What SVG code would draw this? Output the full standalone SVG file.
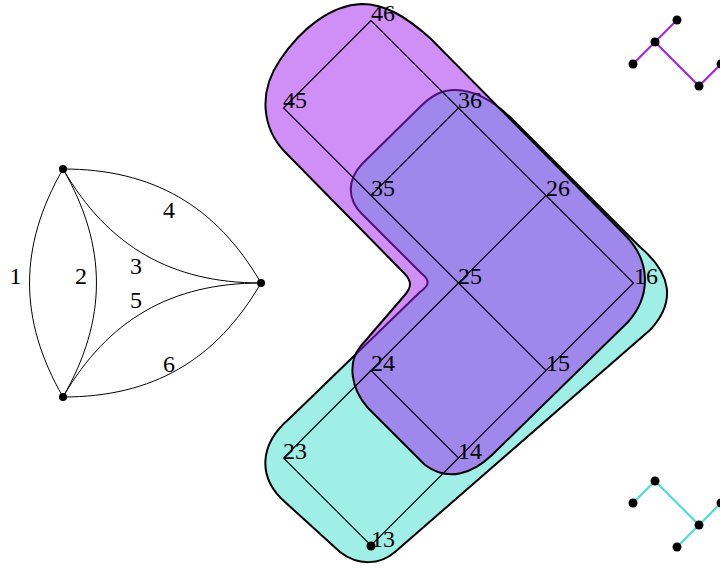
<svg xmlns="http://www.w3.org/2000/svg" width="720" height="568" viewBox="0 0 720 568">
<style>
.lbl{font-family:"Liberation Serif","DejaVu Serif",serif;font-size:24px;fill:#000}
.mid{text-anchor:middle}
.edge{fill:none;stroke:#000;stroke-width:1}
.grid{fill:none;stroke:#000;stroke-width:1.1}
.blob{stroke:#000;stroke-width:2;stroke-linejoin:round}
.dot{fill:#000}
.pl{stroke:#a020f0;stroke-width:2;fill:none}
.tl{stroke:#40e0d0;stroke-width:2;fill:none}
</style>

<!-- left multigraph -->
<g id="left-edges">
  <path class="edge" d="M63,169 C18.4,246.3 18.4,319.7 63,397"/>
  <path class="edge" d="M63,169 C107.6,246.3 107.6,319.7 63,397"/>
  <path class="edge" d="M63,169 C107.9,246.4 171.5,283 261,283"/>
  <path class="edge" d="M63,169 C152.5,169 216.1,205.6 261,283"/>
  <path class="edge" d="M63,397 C107.9,319.6 171.5,283 261,283"/>
  <path class="edge" d="M63,397 C152.5,397 216.1,360.4 261,283"/>
  <text class="lbl mid" x="15.5" y="284">1</text>
  <text class="lbl mid" x="81" y="284">2</text>
  <text class="lbl mid" x="136" y="274">3</text>
  <text class="lbl mid" x="169" y="218">4</text>
  <text class="lbl mid" x="136" y="308">5</text>
  <text class="lbl mid" x="169" y="372">6</text>
</g>
<g id="L-top"><circle class="dot" cx="63" cy="169" r="4"/></g>
<g id="L-right"><circle class="dot" cx="261" cy="283" r="4"/></g>
<g id="L-bottom"><circle class="dot" cx="63" cy="397" r="4"/></g>

<!-- blobs -->
<g id="blob-teal">
  <path class="blob" fill="rgb(159,239,231)" d="M455,90 C475,90 497,103 517,124 L640,247 C672,274 676,302 650,330 L395,552 C380,565 358,566 340,552 L285,502 C258,478 258,445 290,418 L420,292 C430,285 430,280 421,273 L362,214 C347,199 347,180 362,164 L420,107 C432,95 442,90 455,90 Z"/>
</g>
<g id="blob-purple">
  <path class="blob" fill="#a020f0" fill-opacity="0.5" d="M362,4 C385,4 405,16 430,38 L625,235 C650,260 652,295 628,322 L492,455 C472,474 448,482 425,465 L368,408 C350,388 348,362 360,347 L404,296 C412,287 412,281 404,273 L285,152 C262,128 258,92 280,60 C300,30 330,5 362,4 Z"/>
</g>

<!-- grid connectors -->
<g id="grid-edges" class="grid">
  <path d="M371,20.5 L283.5,108 L371,195.5 L458.5,108 Z"/>
  <path d="M458.5,108 L546,195.5 L458.5,283 L371,195.5"/>
  <path d="M546,195.5 L633.5,283 L546,370.5 L458.5,283"/>
  <path d="M458.5,283 L371,370.5 L458.5,458 L546,370.5"/>
  <path d="M371,370.5 L283.5,458 L371,545.5 L458.5,458"/>
</g>

<g id="n46"><text class="lbl" x="371" y="21">46</text></g>
<g id="n45"><text class="lbl" x="283" y="108">45</text></g>
<g id="n36"><text class="lbl" x="458" y="108">36</text></g>
<g id="n35"><text class="lbl" x="371" y="196">35</text></g>
<g id="n26"><text class="lbl" x="546" y="196">26</text></g>
<g id="n25"><text class="lbl" x="458" y="284">25</text></g>
<g id="n16"><text class="lbl" x="634" y="284">16</text></g>
<g id="n24"><text class="lbl" x="371" y="371">24</text></g>
<g id="n15"><text class="lbl" x="546" y="371">15</text></g>
<g id="n23"><text class="lbl" x="283" y="459">23</text></g>
<g id="n14"><text class="lbl" x="458" y="459">14</text></g>
<g id="n13"><circle class="dot" cx="371" cy="546" r="4.5"/><text class="lbl" x="371" y="547">13</text></g>

<!-- small purple tree -->
<g id="purple-edges" class="pl">
  <path d="M633,64 L655,42 L677,20 M655,42 L699,86 L721,64"/>
</g>
<g id="p1"><circle class="dot" cx="633" cy="64" r="4.5"/></g>
<g id="p2"><circle class="dot" cx="655" cy="42" r="4.5"/></g>
<g id="p3"><circle class="dot" cx="677" cy="20" r="4.5"/></g>
<g id="p4"><circle class="dot" cx="699" cy="86" r="4.5"/></g>
<g id="p5"><circle class="dot" cx="721" cy="64" r="4.5"/></g>

<!-- small turquoise tree -->
<g id="teal-edges" class="tl">
  <path d="M633,503 L655,481 L699,525 L677,547 M699,525 L721,503"/>
</g>
<g id="t1"><circle class="dot" cx="633" cy="503" r="4.5"/></g>
<g id="t2"><circle class="dot" cx="655" cy="481" r="4.5"/></g>
<g id="t3"><circle class="dot" cx="699" cy="525" r="4.5"/></g>
<g id="t4"><circle class="dot" cx="677" cy="547" r="4.5"/></g>
<g id="t5"><circle class="dot" cx="721" cy="503" r="4.5"/></g>
</svg>
